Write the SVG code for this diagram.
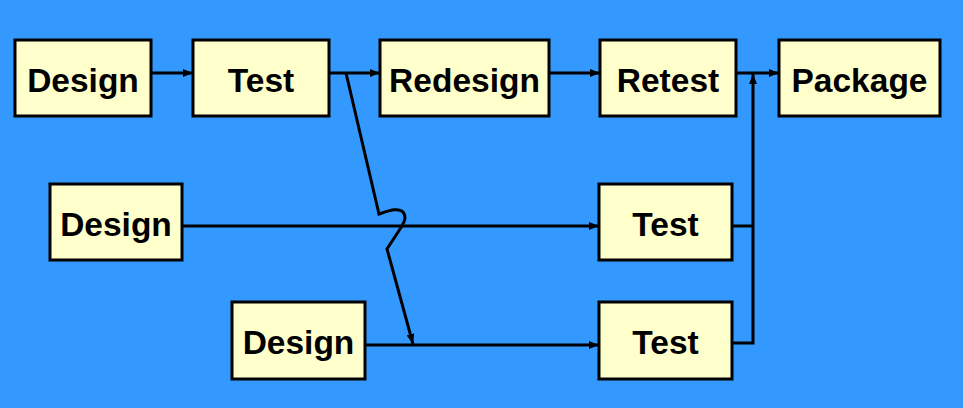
<svg xmlns="http://www.w3.org/2000/svg" width="963" height="408" viewBox="0 0 963 408">
<defs>
<style>
.box{fill:#FFFFCC;stroke:#000;stroke-width:3}
.lbl{font-family:"Liberation Sans",Arial,sans-serif;font-weight:bold;font-size:33.5px;fill:#000;text-anchor:middle}
.c{fill:none;stroke:#000;stroke-width:3}
</style>
<marker id="ah" viewBox="0 0 10 8" refX="10" refY="4" markerWidth="10" markerHeight="8" markerUnits="userSpaceOnUse" orient="auto">
<path d="M0,0 L10,4 L0,8 Z" fill="#000"/>
</marker>
</defs>
<rect width="963" height="408" fill="#3399FF"/>
<g id="connectors">
<line class="c" x1="151" y1="73" x2="193" y2="73" marker-end="url(#ah)"/>
<line class="c" x1="329" y1="73" x2="380" y2="73" marker-end="url(#ah)"/>
<line class="c" x1="549" y1="73" x2="600" y2="73" marker-end="url(#ah)"/>
<line class="c" x1="736" y1="73" x2="779" y2="73" marker-end="url(#ah)"/>
<line class="c" x1="182" y1="226" x2="599" y2="226" marker-end="url(#ah)"/>
<line class="c" x1="365" y1="345" x2="599" y2="345" marker-end="url(#ah)"/>
<polyline class="c" points="732,226 753,226"/>
<polyline class="c" points="730,343 753,343 753,74" marker-end="url(#ah)"/>
<path class="c" d="M346,73 L379,214 C388,211 398,207 403,212 C407,217 404,222 402,226 L387,249 L413,344" marker-end="url(#ah)"/>
</g>
<g id="design1"><rect class="box" x="15" y="40" width="136" height="76"/><text class="lbl" x="83" y="92">Design</text></g>
<g id="test1"><rect class="box" x="193" y="40" width="136" height="76"/><text class="lbl" x="261" y="92">Test</text></g>
<g id="redesign"><rect class="box" x="380" y="40" width="169" height="76"/><text class="lbl" x="464.5" y="92">Redesign</text></g>
<g id="retest"><rect class="box" x="600" y="40" width="136" height="76"/><text class="lbl" x="668" y="92">Retest</text></g>
<g id="package"><rect class="box" x="779" y="40" width="161" height="76"/><text class="lbl" x="859.5" y="92">Package</text></g>
<g id="design2"><rect class="box" x="50" y="184" width="132" height="76"/><text class="lbl" x="116" y="236">Design</text></g>
<g id="test2"><rect class="box" x="599" y="184" width="133" height="76"/><text class="lbl" x="665.5" y="236">Test</text></g>
<g id="design3"><rect class="box" x="232" y="302" width="133" height="77"/><text class="lbl" x="298.5" y="354">Design</text></g>
<g id="test3"><rect class="box" x="599" y="302" width="133" height="77"/><text class="lbl" x="665.5" y="354">Test</text></g>
</svg>
